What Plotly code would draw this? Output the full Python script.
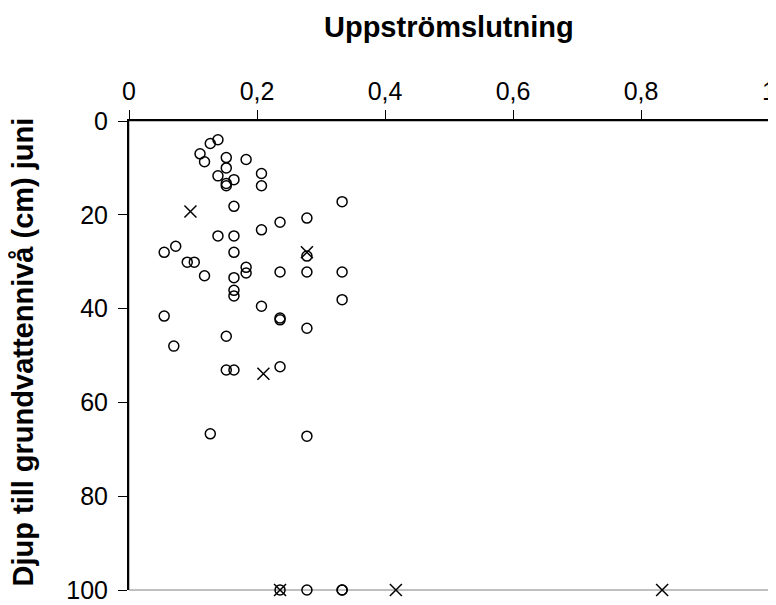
import plotly.graph_objects as go

# Open circles: upstream slope (x) vs depth to groundwater in June (cm)
circle_x = [0.139, 0.127, 0.111, 0.118, 0.152, 0.183, 0.152, 0.207, 0.139, 0.164,
            0.152, 0.152, 0.207, 0.164, 0.333, 0.278, 0.236, 0.207, 0.139, 0.164,
            0.073, 0.055, 0.164, 0.278, 0.091, 0.102, 0.118, 0.164, 0.183, 0.183,
            0.236, 0.278, 0.333, 0.164, 0.164, 0.207, 0.333, 0.055, 0.236, 0.236,
            0.278, 0.152, 0.070, 0.152, 0.164, 0.236, 0.127, 0.278, 0.236, 0.278,
            0.333, 0.333]
circle_y = [4.0, 4.8, 7.0, 8.7, 7.8, 8.2, 10.0, 11.2, 11.7, 12.5,
            13.3, 13.8, 13.8, 18.2, 17.2, 20.7, 21.6, 23.2, 24.5, 24.5,
            26.7, 28.0, 28.0, 28.8, 30.1, 30.1, 33.0, 33.4, 31.2, 32.4,
            32.2, 32.2, 32.2, 36.1, 37.3, 39.5, 38.1, 41.6, 42.0, 42.4,
            44.2, 45.9, 48.0, 53.1, 53.1, 52.4, 66.7, 67.2, 100, 100,
            100, 100]

# Crosses
cross_x = [0.096, 0.278, 0.210, 0.236, 0.417, 0.833]
cross_y = [19.3, 28.0, 53.9, 100, 100, 100]

x_title = "Uppströmslutning"
y_title = "Djup till grundvattennivå (cm) juni"

fig = go.Figure()
fig.add_trace(go.Scatter(
    x=circle_x, y=circle_y, mode="markers", cliponaxis=False,
    marker=dict(symbol="circle-open", size=10, color="black",
                line=dict(color="black", width=1.5)),
    showlegend=False))
fig.add_trace(go.Scatter(
    x=cross_x, y=cross_y, mode="markers", cliponaxis=False,
    marker=dict(symbol="x-thin-open", size=12, color="black",
                line=dict(color="black", width=1.5)),
    showlegend=False))

font = "Liberation Sans, Arial, sans-serif"

fig.update_layout(
    width=776, height=605,
    margin=dict(l=121, r=15, t=113, b=23),
    paper_bgcolor="white", plot_bgcolor="white",
    separators=", ",
    font=dict(family=font, size=25, color="black"),
    shapes=[
        dict(type="rect", xref="paper", yref="paper", x0=0, y0=0, x1=1, y1=1,
             line=dict(color="#808080", width=1), layer="below"),
    ],
    xaxis=dict(
        side="top", range=[0, 1], dtick=0.2, tick0=0,
        showgrid=False, zeroline=False, automargin=False,
        showline=True, linecolor="black", linewidth=2,
        ticks="outside", ticklen=9, tickcolor="black", tickwidth=1,
        tickfont=dict(family=font, size=25),
    ),
    yaxis=dict(
        range=[100, 0], dtick=20, tick0=0,
        showgrid=False, zeroline=False, automargin=False,
        showline=True, linecolor="black", linewidth=2,
        ticks="outside", ticklen=9, tickcolor="black", tickwidth=1,
        ticklabelstandoff=5,
        tickfont=dict(family=font, size=25),
    ),
    annotations=[
        dict(text="<b>" + x_title + "</b>", xref="paper", yref="paper",
             x=0.5, y=1, xanchor="center", yanchor="middle", yshift=94,
             showarrow=False, font=dict(family=font, size=29)),
        dict(text="<b>" + y_title + "</b>", xref="paper", yref="paper",
             x=0, y=0.5, xanchor="center", yanchor="middle", xshift=-107,
             yshift=3, textangle=-90, showarrow=False,
             font=dict(family=font, size=29)),
    ],
)

fig.write_html("out.html")
